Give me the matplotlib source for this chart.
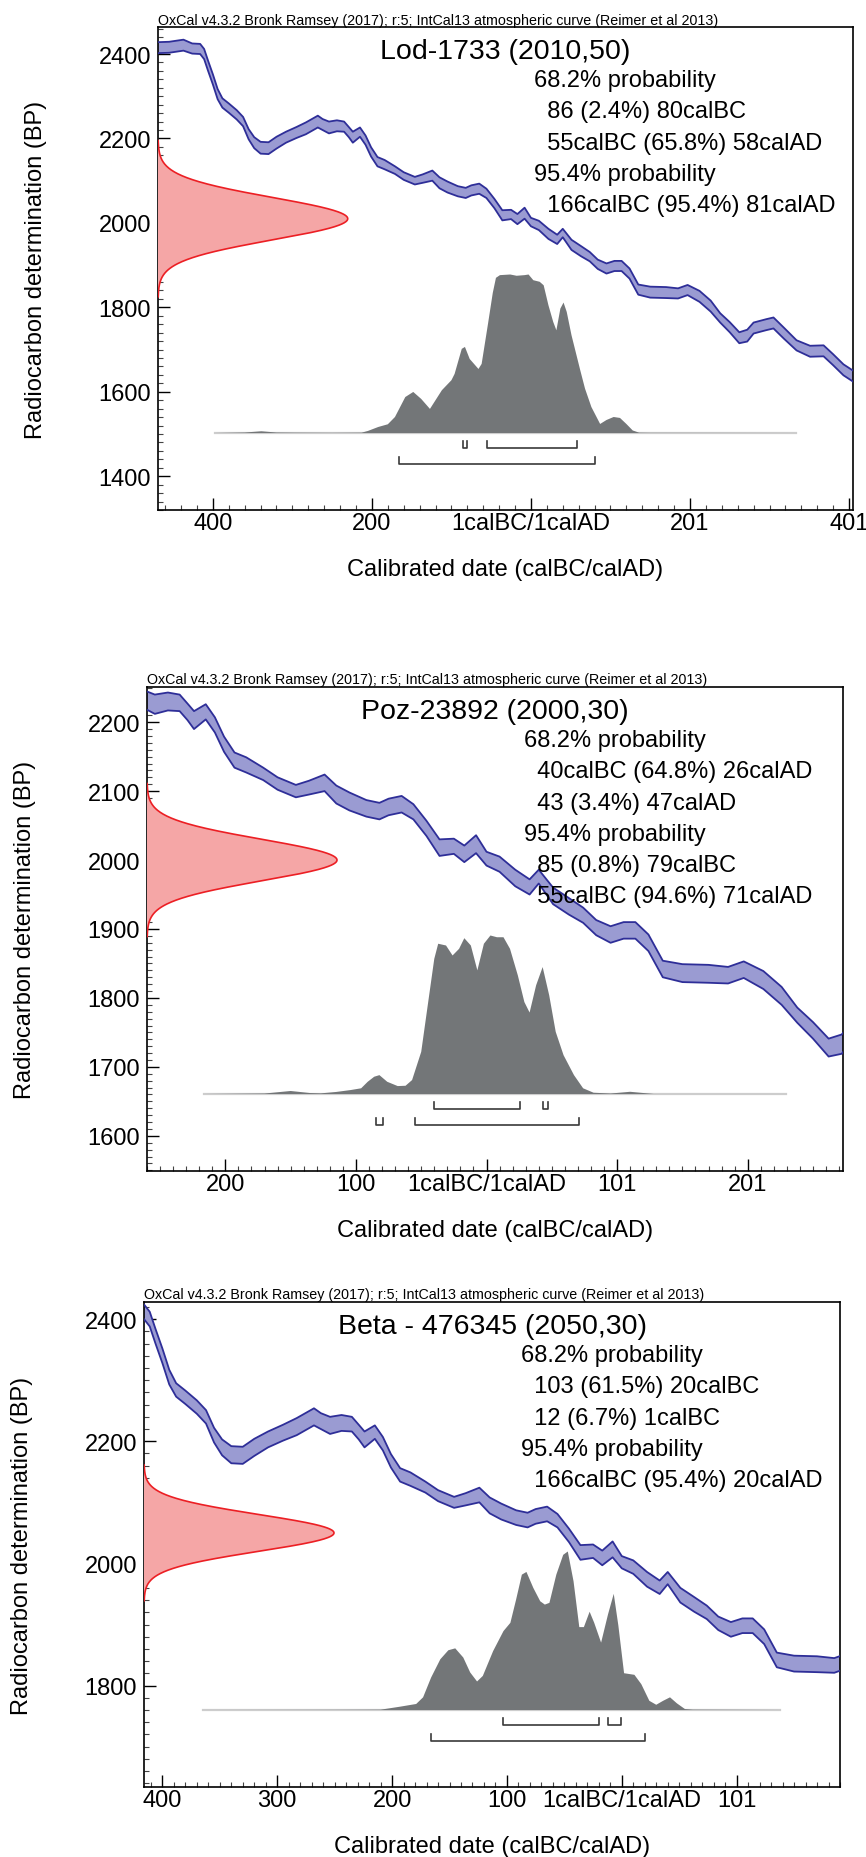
import numpy as np
import matplotlib
matplotlib.use("Agg")
import matplotlib.pyplot as plt
import matplotlib.transforms as mtransforms
from matplotlib.ticker import MultipleLocator

plt.rcParams['font.family'] = ['Liberation Sans', 'DejaVu Sans']

# IntCal13 band (year: 0 = 1calBC/1calAD, BC negative)
cal_year = [-470, -455, -437, -426, -416, -411, -406, -400, -394, -388, -380, -370, -362, -355,
            -348, -340, -330, -320, -308, -295, -283, -268, -262, -254, -244, -235, -229, -224,
            -215, -208, -201, -193, -184, -171, -160, -146, -136, -124, -115, -105, -92, -82,
            -75, -65, -56, -46, -36, -25, -17, -8, 0, 10, 22, 33, 40, 51, 63, 74, 84, 95, 105,
            114, 124, 135, 150, 170, 185, 197, 212, 226, 238, 250, 262, 272, 280, 296, 305, 318,
            334, 351, 368, 380, 393, 406]
cal_bp = [2415, 2416, 2421, 2413, 2412, 2400, 2372, 2340, 2305, 2284, 2272, 2256, 2240, 2210,
          2190, 2178, 2177, 2190, 2203, 2214, 2224, 2240, 2233, 2226, 2230, 2228, 2215, 2203,
          2215, 2196, 2168, 2145, 2138, 2125, 2111, 2100, 2105, 2112, 2095, 2085, 2075, 2071,
          2077, 2081, 2070, 2046, 2018, 2020, 2009, 2023, 2002, 1994, 1974, 1961, 1976, 1948,
          1933, 1920, 1902, 1892, 1898, 1898, 1880, 1842, 1836, 1835, 1833, 1841, 1826, 1803,
          1775, 1753, 1728, 1733, 1751, 1759, 1763, 1739, 1710, 1696, 1697, 1676, 1652, 1636]
cal_sig = [13, 13, 13, 12, 12, 12, 12, 12, 12, 11,
           11, 11, 11, 12, 13, 14, 14, 14, 13, 13,
           14, 14, 13, 14, 13, 12, 12, 13, 11, 11,
           11, 11, 11, 9, 9, 9, 10, 12, 13, 13,
           12, 12, 12, 12, 11, 11, 12, 11, 12, 13,
           10, 11, 12, 11, 10, 12, 12, 11, 11, 12,
           12, 12, 12, 12, 13, 13, 12, 12, 13, 13,
           11, 12, 13, 14, 13, 13, 13, 13, 12, 13,
           13, 13, 13, 13]

header = "OxCal v4.3.2 Bronk Ramsey (2017); r:5; IntCal13 atmospheric curve (Reimer et al 2013)"

lab_codes = ["Lod-1733", "Poz-23892", "Beta - 476345"]
c14_age = [2010, 2000, 2050]
c14_err = [50, 30, 30]

range68 = [[(-86, -80), (-55, 58)], [(-40, 26), (43, 47)], [(-103, -20), (-12, -1)]]
pct68 = [[2.4, 65.8], [64.8, 3.4], [61.5, 6.7]]
range95 = [[(-166, 81)], [(-85, -79), (-55, 71)], [(-166, 20)]]
pct95 = [[95.4], [0.8, 94.6], [95.4]]

# calibrated probability (relative, % of max)
post1_year = [-397, -360, -339, -320, -297, -250, -213, -205, -192, -180, -171, -158, -148, -138,
              -127, -112, -100, -96, -87, -83, -77, -66, -62, -54, -48, -44, -39, -26, -18, -8,
              -3, 3, 11, 16, 22, 28, 32, 37, 41, 45, 51, 62, 68, 76, 87, 95, 104, 112, 120, 128,
              136, 150, 333]
post1_prob = [0, 0.3, 1.1, 0.3, 0.2, 0.1, 0.2, 1.3, 3.8, 5.5, 10.1, 22.7, 25.9, 21.5, 15.2, 27.0,
              33.3, 37.3, 53.1, 54.3, 46.7, 40.4, 43.6, 68.9, 88.4, 97.9, 99.6, 100, 99.2, 99.6,
              100, 96.4, 95.4, 93.2, 80.6, 70.1, 64.8, 78.5, 82.3, 76.4, 61.7, 39.6, 28.0, 16.4,
              5.7, 8.2, 10.1, 9.5, 5.7, 1.6, 0.2, 0.1, 0]
post2_year = [-216, -170, -150, -135, -127, -115, -104, -96, -91, -86, -82, -76, -68, -62, -57,
              -50, -45, -40, -37, -31, -26, -21, -17, -12, -7, -2, 3, 8, 13, 18, 24, 29, 33, 38,
              43, 48, 53, 59, 67, 74, 82, 95, 110, 128, 229]
post2_prob = [0, 0.3, 1.9, 0.6, 0.4, 1.3, 2.5, 3.6, 7.7, 10.9, 11.9, 7.7, 5.0, 5.2, 8.8, 26.6,
              56.0, 85.3, 94.8, 93.7, 87.4, 91.6, 98.3, 93.7, 78.0, 94.8, 100, 98.9, 98.9, 91.6,
              74.8, 58.0, 51.4, 68.6, 80.1, 62.3, 39.2, 24.5, 11.9, 3.6, 0.8, 0.3, 1.4, 0, 0]
post3_year = [-365, -250, -210, -193, -179, -173, -166, -158, -151, -145, -138, -132, -126, -121,
              -112, -103, -97, -92, -87, -83, -77, -71, -67, -63, -57, -51, -47, -42, -37, -33,
              -28, -24, -18, -12, -7, -3, 2, 11, 17, 24, 30, 36, 42, 48, 55, 62, 138]
post3_prob = [0, 0.1, 0.2, 2.1, 3.8, 8.0, 20.5, 32.0, 37.7, 38.9, 33.1, 23.7, 18.0, 21.5, 37.2,
              49.8, 55.0, 69.7, 85.4, 87.1, 77.0, 68.6, 66.5, 67.6, 85.4, 97.9, 100, 81.2, 52.3,
              52.3, 62.0, 55.0, 42.5, 60.3, 73.3, 53.4, 23.2, 22.2, 16.3, 5.8, 3.3, 5.8, 8.0, 4.2,
              0.6, 0.2, 0]
post_years = [post1_year, post2_year, post3_year]
post_probs = [post1_prob, post2_prob, post3_prob]

# axis ranges of the three plots
x_limits = [(-469, 405), (-260, 273), (-416, 190)]
y_limits = [(1320, 2464), (1549, 2251), (1634, 2428)]
x_ticks = [[-400, -200, 0, 200, 400], [-200, -100, 0, 100, 200], [-400, -300, -200, -100, 0, 100]]
x_minor = [20, 10, 10]
y_major = [200, 100, 200]
y_minor = [20, 10, 20]

# layout in pixels (left, top, right, bottom)
W, H = 866, 1858
boxes = [(158, 28, 853, 511), (147, 688, 843, 1172), (144, 1303, 840, 1788)]

BAND = '#9A9BD2'
BAND_EDGE = '#2E2E98'
RED_FILL = '#F5A6A6'
RED_EDGE = '#EC1F24'
GREY = '#737678'
BASE_LINE = '#CDCDCD'
BRACKET = '#3A3A3A'


def year_label(t):
    if t < 0:
        return str(-t)
    if t == 0:
        return "1calBC/1calAD"
    return str(t + 1)


def range_text(a, b, p):
    if b < 0:
        return f"{-a} ({p}%) {-b}calBC"
    if a < 0:
        return f"{-a}calBC ({p}%) {b}calAD"
    return f"{a} ({p}%) {b}calAD"


fig = plt.figure(figsize=(W / 100, H / 100), dpi=100)

cy = np.array(cal_year)
cb = np.array(cal_bp)
cs = np.array(cal_sig)

for i in range(3):
    l, t, r, b = boxes[i]
    axw, axh = r - l, b - t
    ax = fig.add_axes([l / W, 1 - b / H, axw / W, axh / H])

    # calibration curve band
    ax.fill_between(cy, cb - cs, cb + cs, facecolor=BAND, edgecolor='none', zorder=2)
    ax.plot(cy, cb + cs, color=BAND_EDGE, lw=1.3, zorder=3)
    ax.plot(cy, cb - cs, color=BAND_EDGE, lw=1.3, zorder=3)

    # radiocarbon determination on the y axis
    tr_y = mtransforms.blended_transform_factory(ax.transAxes, ax.transData)
    mu, sd = c14_age[i], c14_err[i]
    yy = np.linspace(mu - 3.7 * sd, mu + 3.7 * sd, 400)
    dens = 0.273 * np.exp(-0.5 * ((yy - mu) / sd) ** 2)
    ax.fill_betweenx(yy, 0, dens, transform=tr_y, facecolor=RED_FILL, edgecolor='none', zorder=4)
    ax.plot(dens, yy, transform=tr_y, color=RED_EDGE, lw=1.2, zorder=5)

    # calibrated distribution
    tr_x = mtransforms.blended_transform_factory(ax.transData, ax.transAxes)
    base = 77 / axh
    scale = 158.5 / axh
    py = post_years[i]
    pp = np.array(post_probs[i]) / 100.0
    ax.plot([py[0], py[-1]], [base, base], transform=tr_x, color=BASE_LINE, lw=1.6, zorder=5)
    ax.fill_between(py, base, base + scale * pp, transform=tr_x,
                    facecolor=GREY, edgecolor='none', zorder=6)

    # range brackets
    for row, ranges in enumerate([range68[i], range95[i]]):
        yb = base - (15 + 16 * row) / axh
        tip = yb + 7 / axh
        for a, bb in ranges:
            ax.plot([a, a, bb, bb], [tip, yb, yb, tip], transform=tr_x,
                    color=BRACKET, lw=1.2, zorder=6)

    # texts
    ax.text(0, 1 + 0.5 / axh, header, transform=ax.transAxes, ha='left', va='bottom',
            fontsize=10.3)
    ax.text(0.5, 1 - 24 / axh, f"{lab_codes[i]} ({c14_age[i]},{c14_err[i]})",
            transform=ax.transAxes, ha='center', va='center', fontsize=20.5, zorder=7)
    lines = ["68.2% probability"]
    lines += ["  " + range_text(a, bb, p) for (a, bb), p in zip(range68[i], pct68[i])]
    lines += ["95.4% probability"]
    lines += ["  " + range_text(a, bb, p) for (a, bb), p in zip(range95[i], pct95[i])]
    for k, line in enumerate(lines):
        ax.text(0.5415, 1 - (53.2 + 31.2 * k) / axh, line, transform=ax.transAxes,
                ha='left', va='center', fontsize=17, zorder=7)

    ax.text(-122 / axw, 0.5, "Radiocarbon determination (BP)", transform=ax.transAxes,
            rotation=90, ha='center', va='center', fontsize=17)
    ax.text(0.5, -59.5 / axh, "Calibrated date (calBC/calAD)", transform=ax.transAxes,
            ha='center', va='center', fontsize=17)

    # axes
    ax.set_xlim(*x_limits[i])
    ax.set_ylim(*y_limits[i])
    ax.set_xticks(x_ticks[i], [year_label(v) for v in x_ticks[i]])
    ax.xaxis.set_minor_locator(MultipleLocator(x_minor[i]))
    ax.yaxis.set_major_locator(MultipleLocator(y_major[i]))
    ax.yaxis.set_minor_locator(MultipleLocator(y_minor[i]))
    ax.tick_params(axis='both', which='major', direction='in', length=8.6, width=1.0,
                   labelsize=17, top=False, right=False, color='black')
    ax.tick_params(axis='both', which='minor', direction='in', length=3.6, width=0.8,
                   top=False, right=False, color='#444444')
    ax.tick_params(axis='x', which='major', pad=1.5)
    ax.tick_params(axis='y', which='major', pad=5)
    for sp in ax.spines.values():
        sp.set_linewidth(1.2)
        sp.set_color('black')

fig.savefig("out.png", dpi=100)
